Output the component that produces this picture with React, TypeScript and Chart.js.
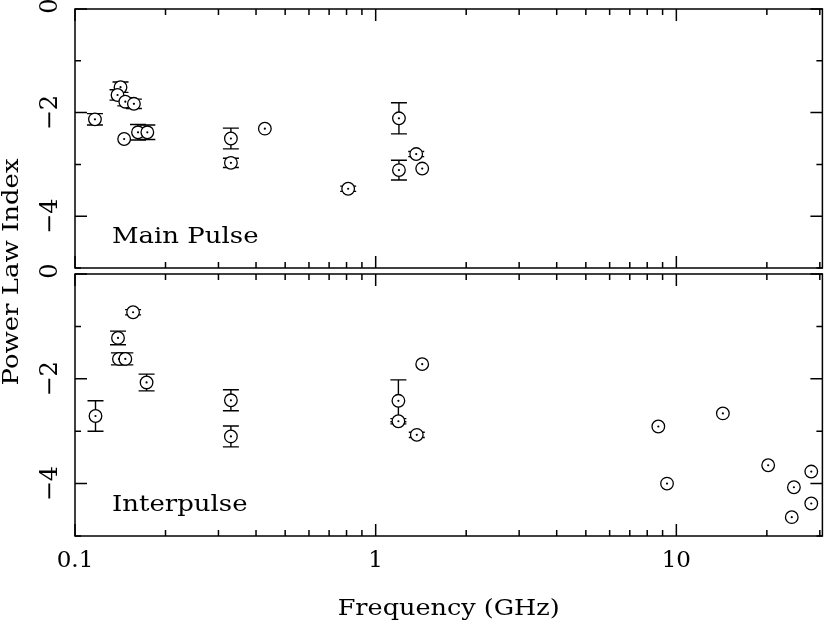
import React, { useEffect, useRef } from "react";
import { Chart, registerables } from "chart.js";

Chart.register(...registerables);

// ---- Data ----
// Main pulse panel
const mainFreq = [0.1165, 0.1417, 0.1385, 0.147, 0.157, 0.1457, 0.162, 0.174, 0.33, 0.33, 0.428, 0.81, 1.195, 1.195, 1.364, 1.428];
const mainIndex = [-2.13, -1.51, -1.66, -1.79, -1.83, -2.51, -2.38, -2.38, -2.5, -2.97, -2.31, -3.47, -2.11, -3.11, -2.8, -3.08];
const mainErr = [0.11, 0.1, 0.1, 0.08, 0.09, 0, 0.15, 0.14, 0.2, 0.09, 0, 0.05, 0.3, 0.19, 0.05, 0];

// Interpulse panel
const interFreq = [0.117, 0.139, 0.14, 0.147, 0.156, 0.173, 0.33, 0.33, 1.19, 1.19, 1.37, 1.428, 8.71, 9.31, 14.28, 20.2, 24.6, 24.2, 28.1, 28.1];
const interIndex = [-2.71, -1.22, -1.62, -1.62, -0.73, -2.07, -2.41, -3.1, -2.42, -2.81, -3.07, -1.72, -2.91, -4.0, -2.66, -3.65, -4.07, -4.64, -3.77, -4.38];
const interErr = [0.29, 0.13, 0.115, 0.115, 0.05, 0.16, 0.2, 0.2, 0.4, 0.05, 0.05, 0, 0, 0, 0, 0, 0, 0, 0, 0];

// Axes
const xMin = 0.1;
const xMax = 30.6;
const yMin = -5;
const yMax = 0;
const xMajorTicks = [0.1, 1, 10];
const xTickLabels = ["0.1", "1", "10"];
const xMinorTicks = [0.2, 0.3, 0.4, 0.5, 0.6, 0.7, 0.8, 0.9, 2, 3, 4, 5, 6, 7, 8, 9, 20, 30];
const yMajorTicks = [0, -2, -4];
const yTickLabels = ["0", "\u22122", "\u22124"];
const yMinorTicks = [-1, -3, -5];

const FONT = '"DejaVu Serif", "Liberation Serif", serif';
const INK = "#000";

function drawText(
  ctx: CanvasRenderingContext2D,
  text: string,
  x: number,
  y: number,
  size: number,
  rot: number,
  align: CanvasTextAlign,
  baseline: CanvasTextBaseline,
  sx: number
) {
  ctx.save();
  ctx.translate(x, y);
  ctx.rotate(rot);
  ctx.scale(sx, 1);
  ctx.font = `${size}px ${FONT}`;
  ctx.fillStyle = INK;
  ctx.textAlign = align;
  ctx.textBaseline = baseline;
  ctx.fillText(text, 0, 0);
  ctx.restore();
}

function makeChart(
  canvas: HTMLCanvasElement,
  freq: number[],
  index: number[],
  err: number[],
  padTop: number,
  padBottom: number,
  label: string,
  labelBaseline: number,
  isBottom: boolean
) {
  const pts = freq.map((f, i) => ({ x: f, y: index[i] }));

  const errorBars = {
    id: "errorBars",
    beforeDatasetsDraw(chart: any) {
      const { ctx } = chart;
      const xs = chart.scales.x;
      const ys = chart.scales.y;
      ctx.save();
      ctx.strokeStyle = INK;
      ctx.lineWidth = 1.4;
      freq.forEach((f, i) => {
        if (!err[i]) return;
        const px = xs.getPixelForValue(f);
        const y1 = ys.getPixelForValue(index[i] + err[i]);
        const y2 = ys.getPixelForValue(index[i] - err[i]);
        ctx.beginPath();
        ctx.moveTo(px, y1);
        ctx.lineTo(px, y2);
        ctx.moveTo(px - 8, y1);
        ctx.lineTo(px + 8, y1);
        ctx.moveTo(px - 8, y2);
        ctx.lineTo(px + 8, y2);
        ctx.stroke();
      });
      ctx.restore();
    },
  };

  const frame = {
    id: "frame",
    afterDraw(chart: any) {
      const { ctx, chartArea: a } = chart;
      const xs = chart.scales.x;
      const ys = chart.scales.y;
      ctx.save();
      ctx.strokeStyle = INK;
      ctx.lineWidth = 1.5;
      ctx.strokeRect(a.left, a.top, a.right - a.left, a.bottom - a.top);
      ctx.beginPath();
      const xt = (v: number, len: number) => {
        const px = xs.getPixelForValue(v);
        ctx.moveTo(px, a.bottom);
        ctx.lineTo(px, a.bottom - len);
        ctx.moveTo(px, a.top);
        ctx.lineTo(px, a.top + len);
      };
      const yt = (v: number, len: number) => {
        const py = ys.getPixelForValue(v);
        ctx.moveTo(a.left, py);
        ctx.lineTo(a.left + len, py);
        ctx.moveTo(a.right, py);
        ctx.lineTo(a.right - len, py);
      };
      xMajorTicks.forEach((v) => xt(v, 12));
      xMinorTicks.forEach((v) => xt(v, 6));
      yMajorTicks.forEach((v) => yt(v, 12));
      yMinorTicks.forEach((v) => yt(v, 6));
      ctx.stroke();
      ctx.restore();

      // y tick labels (rotated)
      yMajorTicks.forEach((v, i) => {
        const py = ys.getPixelForValue(v) - (v === 0 ? 3 : 0);
        drawText(ctx, yTickLabels[i], 57, py, 24, -Math.PI / 2, "center", "alphabetic", 1);
      });

      // panel label
      drawText(ctx, label, 112, labelBaseline, 22, 0, "left", "alphabetic", 1.18);

      if (isBottom) {
        xMajorTicks.forEach((v, i) => {
          const px = xs.getPixelForValue(v);
          drawText(ctx, xTickLabels[i], px, 567, 23, 0, "center", "alphabetic", 1);
        });
        drawText(ctx, "Frequency (GHz)", (a.left + a.right) / 2, 615, 22, 0, "center", "alphabetic", 1.16);
        drawText(ctx, "Power Law Index", 18, 272, 22, -Math.PI / 2, "center", "alphabetic", 1.18);
      }
    },
  };

  return new Chart(canvas, {
    type: "scatter",
    data: {
      datasets: [
        {
          data: pts,
          order: 2,
          pointRadius: 6.3,
          pointBackgroundColor: "#fff",
          pointBorderColor: INK,
          pointBorderWidth: 1.3,
          showLine: false,
        },
        {
          data: pts,
          order: 1,
          pointRadius: 1.1,
          pointBackgroundColor: INK,
          pointBorderColor: INK,
          pointBorderWidth: 0,
          showLine: false,
        },
      ],
    },
    options: {
      animation: false,
      responsive: false,
      maintainAspectRatio: false,
      events: [],
      layout: { padding: { left: 75, right: 5, top: padTop, bottom: padBottom } },
      plugins: { legend: { display: false }, tooltip: { enabled: false } },
      scales: {
        x: { type: "logarithmic", min: xMin, max: xMax, display: false },
        y: { type: "linear", min: yMin, max: yMax, display: false },
      },
    },
    plugins: [errorBars, frame],
  } as any);
}

export default function App() {
  const topRef = useRef<HTMLCanvasElement>(null);
  const botRef = useRef<HTMLCanvasElement>(null);

  useEffect(() => {
    document.body.style.margin = "0";
    const c1 = makeChart(topRef.current!, mainFreq, mainIndex, mainErr, 9, 624 - 268, "Main Pulse", 243, false);
    const c2 = makeChart(botRef.current!, interFreq, interIndex, interErr, 274, 624 - 536, "Interpulse", 511, true);
    return () => {
      c1.destroy();
      c2.destroy();
    };
  }, []);

  return (
    <div style={{ position: "absolute", left: 0, top: 0, width: 830, height: 624, background: "#fff" }}>
      <canvas ref={topRef} width={830} height={624} style={{ position: "absolute", left: 0, top: 0 }} />
      <canvas ref={botRef} width={830} height={624} style={{ position: "absolute", left: 0, top: 0 }} />
    </div>
  );
}
